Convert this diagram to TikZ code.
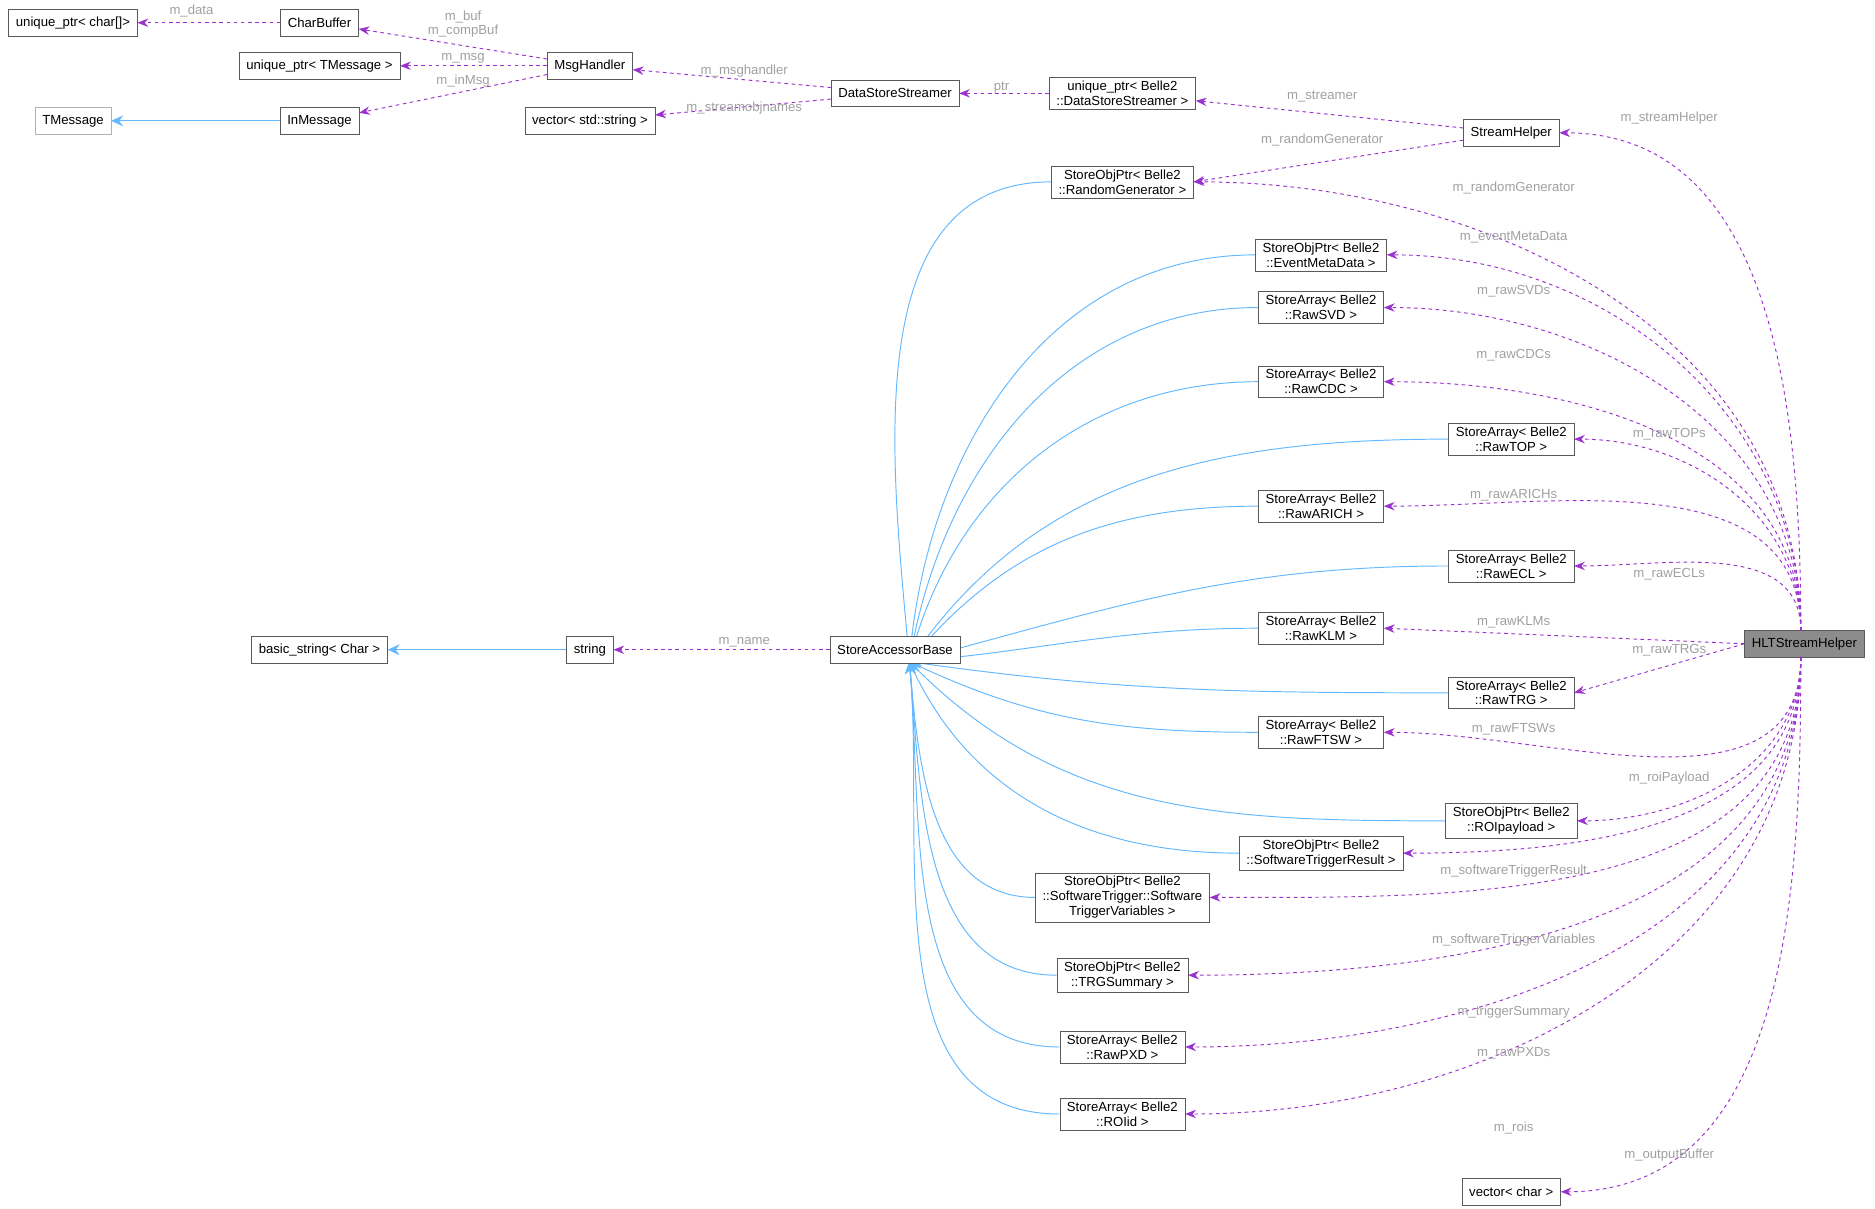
\documentclass[tikz,border=0pt]{standalone}
\usepackage{fontspec}
\setmainfont{Liberation Sans}
\usetikzlibrary{arrows.meta,backgrounds}
\definecolor{pur}{HTML}{9A32CD}
\definecolor{blu}{HTML}{63B8FF}
\definecolor{lbl}{HTML}{A0A0A0}
\begin{document}
\begin{tikzpicture}[x=1pt,y=-1pt,
  box/.style={draw=black!65,fill=white,font=\fontsize{11}{12.5}\selectfont,align=center,inner xsep=6pt,inner ysep=3pt,minimum height=22pt},
  mem/.style={draw=pur,dashed,thick,-{Stealth[length=9pt,width=7pt]}},
  inh/.style={draw=blu,thick,-{Stealth[length=10pt,width=9pt]}},
  lab/.style={text=lbl,font=\fontsize{11}{12}\selectfont,align=center,inner sep=1pt}]
\useasboundingbox (0,0) rectangle (1567,1010);
\node[box,fill=black!45] (hlt) at (1508,538) {HLTStreamHelper};
\node[box] (upc) at (61,19) {unique\_ptr< char[]>};
\node[box] (cb) at (267,19) {CharBuffer};
\node[box] (upt) at (267,55) {unique\_ptr< TMessage >};
\node[box,draw=black!30] (tm) at (61,101) {TMessage};
\node[box] (inm) at (267,101) {InMessage};
\node[box] (mh) at (493,55) {MsgHandler};
\node[box] (vs) at (493,101) {vector< std::string >};
\node[box] (dss) at (748,78) {DataStoreStreamer};
\node[box] (updss) at (938,78) {unique\_ptr< Belle2\\::DataStoreStreamer >};
\node[box] (sh) at (1263,111) {StreamHelper};
\node[box] (rg) at (938,152) {StoreObjPtr< Belle2\\::RandomGenerator >};
\node[box] (emd) at (1104,213) {StoreObjPtr< Belle2\\::EventMetaData >};
\node[box] (svd) at (1104,257) {StoreArray< Belle2\\::RawSVD >};
\node[box] (cdc) at (1104,319) {StoreArray< Belle2\\::RawCDC >};
\node[box] (top) at (1263,367) {StoreArray< Belle2\\::RawTOP >};
\node[box] (arich) at (1104,423) {StoreArray< Belle2\\::RawARICH >};
\node[box] (ecl) at (1263,473) {StoreArray< Belle2\\::RawECL >};
\node[box] (klm) at (1104,525) {StoreArray< Belle2\\::RawKLM >};
\node[box] (trg) at (1263,579) {StoreArray< Belle2\\::RawTRG >};
\node[box] (ftsw) at (1104,612) {StoreArray< Belle2\\::RawFTSW >};
\node[box] (roip) at (1263,686) {StoreObjPtr< Belle2\\::ROIpayload >};
\node[box] (str) at (1104,713) {StoreObjPtr< Belle2\\::SoftwareTriggerResult >};
\node[box] (stv) at (938,750) {StoreObjPtr< Belle2\\::SoftwareTrigger::Software\\TriggerVariables >};
\node[box] (trgs) at (938,815) {StoreObjPtr< Belle2\\::TRGSummary >};
\node[box] (pxd) at (938,875) {StoreArray< Belle2\\::RawPXD >};
\node[box] (roiid) at (938,931) {StoreArray< Belle2\\::ROIid >};
\node[box] (vc) at (1263,996) {vector< char >};
\node[box] (sab) at (748,543) {StoreAccessorBase};
\node[box] (st) at (493,543) {string};
\node[box] (bs) at (267,543) {basic\_string< Char >};
\coordinate (tip) at (760,553);
\begin{scope}[on background layer]
\foreach \n/\i in {rg/95,emd/85,svd/80,cdc/75,top/55,arich/50,ecl/15,klm/5,trg/-8,ftsw/-25,roip/-45,str/-65}{
  \draw[inh] (\n.west) to[out=180,in=\i] (tip);
}
\foreach \n in {stv,trgs,pxd,roiid}{
  \draw[inh] (\n.west) to[out=180,in=-85] (tip);
}
\end{scope}
\draw[inh] (inm) -- (tm);
\draw[inh] (st) -- (bs);
% members (left part)
\draw[mem] (cb) -- (upc); \node[lab] (l1) at (160,9) {m\_data};
\draw[mem] (mh) -- (cb); \node[lab] (l2) at (387,20) {m\_buf\\m\_compBuf};
\draw[mem] (mh) -- (upt); \node[lab] (l3) at (387,49) {m\_msg};
\draw[mem] (mh) -- (inm); \node[lab] (l4) at (387,68) {m\_inMsg};
\draw[mem] (dss) -- (mh); \node[lab] (l5) at (622,59) {m\_msghandler};
\draw[mem] (dss) -- (vs); \node[lab] (l6) at (622,90) {m\_streamobjnames};
\draw[mem] (updss) -- (dss); \node[lab] (l7) at (837,73) {ptr};
\draw[mem] (sh) -- (updss); \node[lab] (l8) at (1105,81) {m\_streamer};
\draw[mem] (sh) -- (rg.east); \node[lab] (l9) at (1105,117) {m\_randomGenerator};
\draw[mem] (sab) -- (st); \node[lab] (l10) at (622,537) {m\_name};
% members from HLT
\coordinate (hn) at (1505,527);
\coordinate (hs) at (1505,549);
\foreach \n in {sh,rg,emd,svd,cdc,top,arich,ecl}{
  \draw[mem] (hn) to[out=90,in=0] (\n.east);
}
\draw[mem] (hlt.west) -- (klm.east);
\draw[mem] (hlt.west) -- (trg.east);
\foreach \n in {ftsw,roip,str,stv,trgs,pxd,roiid,vc}{
  \draw[mem] (hs) to[out=-90,in=0] (\n.east);
}
\node[lab] (a1) at (1395,99) {m\_streamHelper};
\node[lab] (a2) at (1265,157) {m\_randomGenerator};
\node[lab] (a3) at (1265,198) {m\_eventMetaData};
\node[lab] (a4) at (1265,243) {m\_rawSVDs};
\node[lab] (a5) at (1265,297) {m\_rawCDCs};
\node[lab] (a6) at (1395,363) {m\_rawTOPs};
\node[lab] (a7) at (1265,414) {m\_rawARICHs};
\node[lab] (a8) at (1395,480) {m\_rawECLs};
\node[lab] (a9) at (1265,520) {m\_rawKLMs};
\node[lab] (a10) at (1395,543) {m\_rawTRGs};
\node[lab] (a11) at (1265,609) {m\_rawFTSWs};
\node[lab] (a12) at (1395,650) {m\_roiPayload};
\node[lab] (a13) at (1265,728) {m\_softwareTriggerResult};
\node[lab] (a14) at (1265,786) {m\_softwareTriggerVariables};
\node[lab] (a15) at (1265,846) {m\_triggerSummary};
\node[lab] (a16) at (1265,880) {m\_rawPXDs};
\node[lab] (a17) at (1265,943) {m\_rois};
\node[lab] (a18) at (1395,965) {m\_outputBuffer};
\end{tikzpicture}
\end{document}
